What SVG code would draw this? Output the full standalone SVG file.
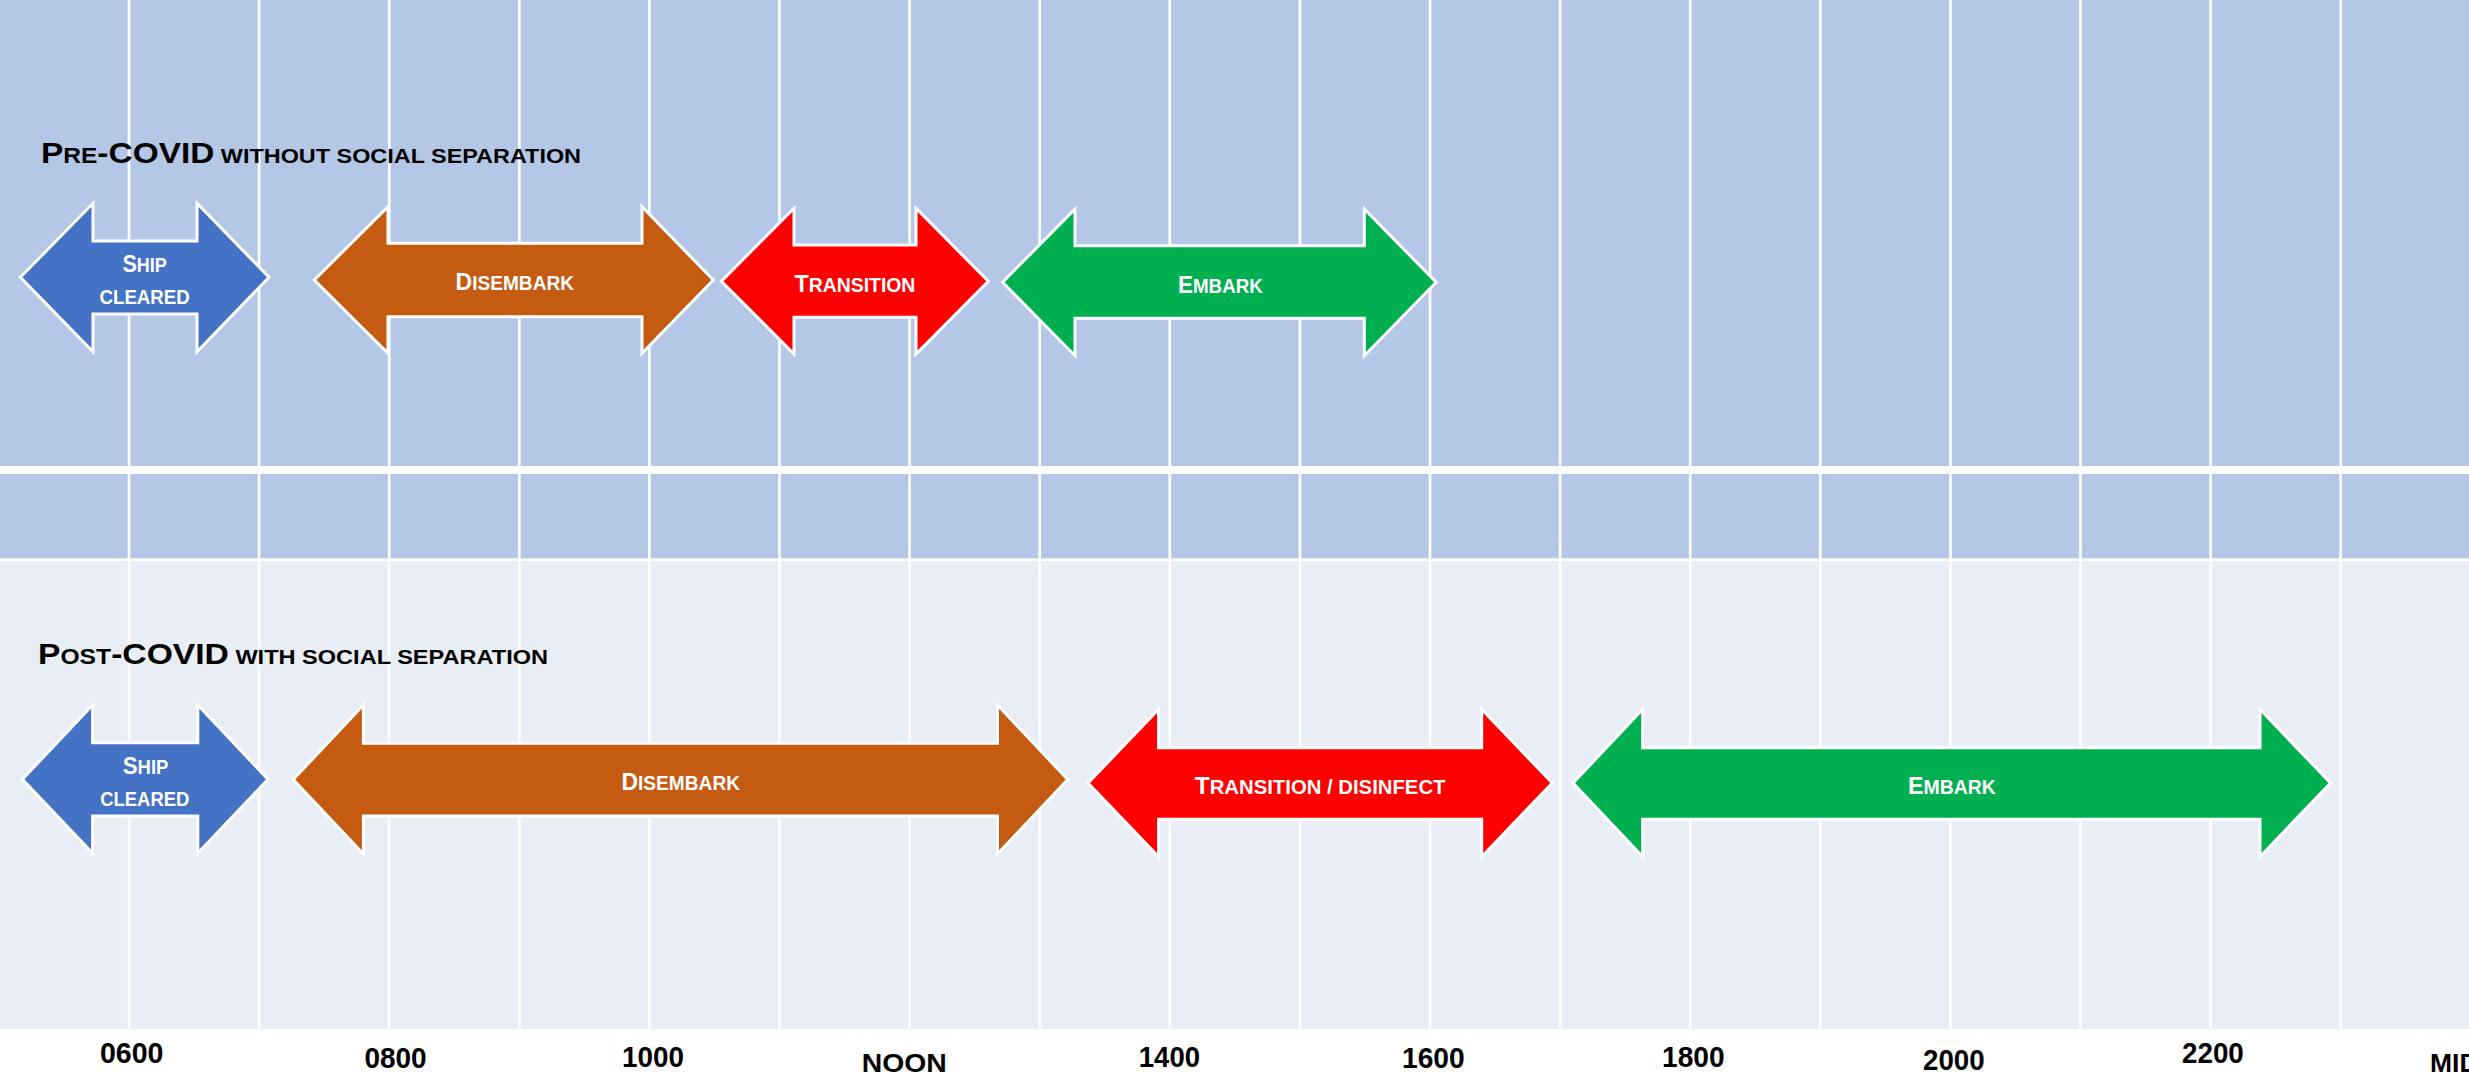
<svg xmlns="http://www.w3.org/2000/svg" width="2469" height="1081" viewBox="0 0 2469 1081">
  <style>
    .band-dark { fill: #B4C7E7; }
    .band-light { fill: #E9EDF5; }
    .grid { stroke: #FFFFFF; stroke-width: 2.7; }
    .arrow { stroke: #FFFFFF; stroke-width: 3; stroke-linejoin: miter; }
    .blue { fill: #4472C4; }
    .orange { fill: #C55A11; }
    .red { fill: #FF0000; }
    .green { fill: #00B050; }
    .lbl { font-family: "Liberation Sans", Arial, sans-serif; font-weight: bold; fill: #FFFFFF; font-size: 24px; }
    .lbl .sc { font-size: 20px; }
    .title { font-family: "Liberation Sans", Arial, sans-serif; font-weight: bold; fill: #000000; font-size: 30px; }
    .title .sc { font-size: 21px; }
    .title .sc2 { font-size: 22px; }
    .tick { font-family: "Liberation Sans", Arial, sans-serif; font-weight: bold; fill: #000000; font-size: 29px; }
    .tickw { font-family: "Liberation Sans", Arial, sans-serif; font-weight: bold; fill: #000000; font-size: 26.5px; }
  </style>

  <!-- background bands of the timetable -->
  <g id="background">
    <rect x="0" y="0" width="2469" height="1081" fill="#FFFFFF"/>
    <rect class="band-dark" x="0" y="0" width="2469" height="466"/>
    <rect class="band-dark" x="0" y="474" width="2469" height="84.3"/>
    <rect class="band-light" x="0" y="561" width="2469" height="468"/>
  </g>

  <!-- hourly column rules -->
  <g id="grid" class="grid">
    <line x1="129" y1="0" x2="129" y2="1029"/>
    <line x1="259.1" y1="0" x2="259.1" y2="1029"/>
    <line x1="389.2" y1="0" x2="389.2" y2="1029"/>
    <line x1="519.3" y1="0" x2="519.3" y2="1029"/>
    <line x1="649.4" y1="0" x2="649.4" y2="1029"/>
    <line x1="779.5" y1="0" x2="779.5" y2="1029"/>
    <line x1="909.6" y1="0" x2="909.6" y2="1029"/>
    <line x1="1039.7" y1="0" x2="1039.7" y2="1029"/>
    <line x1="1169.8" y1="0" x2="1169.8" y2="1029"/>
    <line x1="1299.9" y1="0" x2="1299.9" y2="1029"/>
    <line x1="1430" y1="0" x2="1430" y2="1029"/>
    <line x1="1560.1" y1="0" x2="1560.1" y2="1029"/>
    <line x1="1690.2" y1="0" x2="1690.2" y2="1029"/>
    <line x1="1820.3" y1="0" x2="1820.3" y2="1029"/>
    <line x1="1950.4" y1="0" x2="1950.4" y2="1029"/>
    <line x1="2080.5" y1="0" x2="2080.5" y2="1029"/>
    <line x1="2210.6" y1="0" x2="2210.6" y2="1029"/>
    <line x1="2340.7" y1="0" x2="2340.7" y2="1029"/>
  </g>

  <!-- section titles -->
  <g id="title-pre">
    <text class="title" x="41" y="163.3" textLength="540" lengthAdjust="spacingAndGlyphs">P<tspan class="sc2">RE</tspan>-COVID<tspan class="sc"> WITHOUT SOCIAL SEPARATION</tspan></text>
  </g>
  <g id="title-post">
    <text class="title" x="38" y="663.5" textLength="510" lengthAdjust="spacingAndGlyphs">P<tspan class="sc2">OST</tspan>-COVID<tspan class="sc"> WITH SOCIAL SEPARATION</tspan></text>
  </g>

  <!-- pre-COVID schedule -->
  <g id="pre-ship-cleared">
    <polygon class="arrow blue" points="20.4,277.3 93,203.3 93,241 197,241 197,203.3 269,277.3 197,351.7 197,314 93,314 93,351.7"/>
    <text class="lbl" x="122.4" y="271.7" textLength="44.4" lengthAdjust="spacingAndGlyphs">S<tspan class="sc">HIP</tspan></text>
    <text class="lbl" x="99.5" y="304" textLength="90.3" lengthAdjust="spacingAndGlyphs"><tspan class="sc">CLEARED</tspan></text>
  </g>
  <g id="pre-disembark">
    <polygon class="arrow orange" points="314.3,280 388,206.7 388,243.3 642,243.3 642,206.7 713.3,280 642,353.3 642,316.7 388,316.7 388,353.3"/>
    <text class="lbl" x="455.6" y="290" textLength="118.4" lengthAdjust="spacingAndGlyphs">D<tspan class="sc">ISEMBARK</tspan></text>
  </g>
  <g id="pre-transition">
    <polygon class="arrow red" points="721.4,281.2 794,208.3 794,245 916,245 916,208.3 988.3,281.2 916,354 916,317.3 794,317.3 794,354"/>
    <text class="lbl" x="794.4" y="291.7" textLength="121" lengthAdjust="spacingAndGlyphs">T<tspan class="sc">RANSITION</tspan></text>
  </g>
  <g id="pre-embark">
    <polygon class="arrow green" points="1002.6,282.3 1075,209 1075,245.7 1364.3,245.7 1364.3,209 1436.2,282.3 1364.3,355.7 1364.3,318.3 1075,318.3 1075,355.7"/>
    <text class="lbl" x="1178" y="293.3" textLength="84.8" lengthAdjust="spacingAndGlyphs">E<tspan class="sc">MBARK</tspan></text>
  </g>

  <!-- post-COVID schedule -->
  <g id="post-ship-cleared">
    <polygon class="arrow blue" points="22.4,779.3 92.6,705 92.6,742.7 197.8,742.7 197.8,705 268,779.3 197.8,853.3 197.8,816 92.6,816 92.6,853.3"/>
    <text class="lbl" x="122.8" y="774" textLength="45.6" lengthAdjust="spacingAndGlyphs">S<tspan class="sc">HIP</tspan></text>
    <text class="lbl" x="100.3" y="806" textLength="89" lengthAdjust="spacingAndGlyphs"><tspan class="sc">CLEARED</tspan></text>
  </g>
  <g id="post-disembark">
    <polygon class="arrow orange" points="293.2,779.5 363.4,705 363.4,743.3 997.5,743.3 997.5,705 1067.7,779.5 997.5,854 997.5,816 363.4,816 363.4,854"/>
    <text class="lbl" x="621.5" y="790" textLength="118.5" lengthAdjust="spacingAndGlyphs">D<tspan class="sc">ISEMBARK</tspan></text>
  </g>
  <g id="post-transition">
    <polygon class="arrow red" points="1088,783 1158.6,709.3 1158.6,747.7 1481.7,747.7 1481.7,709.3 1552.3,783 1481.7,856.7 1481.7,819.3 1158.6,819.3 1158.6,856.7"/>
    <text class="lbl" x="1194.8" y="794" textLength="250.7" lengthAdjust="spacingAndGlyphs">T<tspan class="sc">RANSITION / DISINFECT</tspan></text>
  </g>
  <g id="post-embark">
    <polygon class="arrow green" points="1573,783 1642.7,709.3 1642.7,747.7 2260,747.7 2260,709.3 2330.5,783 2260,856.7 2260,819.3 1642.7,819.3 1642.7,856.7"/>
    <text class="lbl" x="1908" y="794" textLength="87.7" lengthAdjust="spacingAndGlyphs">E<tspan class="sc">MBARK</tspan></text>
  </g>

  <g id="connectors"/>

  <!-- hour axis -->
  <g id="axis">
    <text class="tick" x="100" y="1063.3" textLength="63.5" lengthAdjust="spacingAndGlyphs">0600</text>
    <text class="tick" x="364.4" y="1067.7" textLength="62.2" lengthAdjust="spacingAndGlyphs">0800</text>
    <text class="tick" x="622" y="1066.7" textLength="62" lengthAdjust="spacingAndGlyphs">1000</text>
    <text class="tickw" x="861.7" y="1071.7" textLength="85" lengthAdjust="spacingAndGlyphs">NOON</text>
    <text class="tick" x="1138.8" y="1066.7" textLength="61.2" lengthAdjust="spacingAndGlyphs">1400</text>
    <text class="tick" x="1402" y="1068.3" textLength="62.7" lengthAdjust="spacingAndGlyphs">1600</text>
    <text class="tick" x="1662" y="1066.7" textLength="62.6" lengthAdjust="spacingAndGlyphs">1800</text>
    <text class="tick" x="1923" y="1070" textLength="61.6" lengthAdjust="spacingAndGlyphs">2000</text>
    <text class="tick" x="2182" y="1062.7" textLength="61.8" lengthAdjust="spacingAndGlyphs">2200</text>
    <text class="tickw" x="2430" y="1072">MIDNIGHT</text>
  </g>
</svg>
